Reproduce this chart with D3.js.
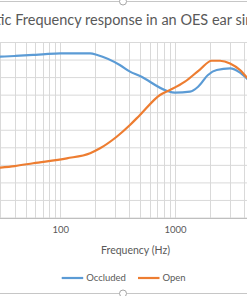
<!DOCTYPE html>
<html>
<head>
<meta charset="utf-8">
<script src="https://cdn.jsdelivr.net/npm/d3@7"></script>
<style>
  html, body { margin: 0; padding: 0; background: #fff; overflow: hidden; }
  svg { display: block; }
</style>
</head>
<body>
<svg id="chart" width="247" height="296"></svg>
<script>
// ---- data ----
const titleText = "Acoustic Frequency response in an OES ear simulator";
const xAxisTitle = "Frequency (Hz)";
const seriesNames = ["Occluded", "Open"];
const xTickLabels = [100, 1000];

const occludedFreq = [30, 40, 58, 74, 100, 182, 210, 330, 405, 495, 846, 1000, 1350, 1590, 1940, 2310, 3020, 3690, 4220, 5500];
const occludedDb   = [91.9, 92.3, 92.9, 93.4, 93.8, 93.8, 92.9, 87.2, 83.4, 80.9, 72.5, 71.4, 72.0, 74.8, 81.5, 84.3, 85.2, 82.8, 79.6, 73.0];

const openFreq = [30, 40, 58, 114, 182, 222, 310, 405, 495, 740, 905, 1220, 1650, 2085, 2470, 3020, 3690, 4220, 5500];
const openDb   = [28.7, 29.6, 31.2, 34.0, 36.9, 39.7, 46.3, 53.0, 58.7, 70.1, 72.9, 77.7, 84.6, 89.6, 89.6, 88.1, 84.3, 80.2, 74.0];

// ---- layout ----
const W = 247, H = 296;
const font = "Lato, 'Open Sans', sans-serif";
const textColor = "#595959";
const colors = ["#5B9BD5", "#ED7D31"];

const svg = d3.select("#chart");

// x: log scale, 100 Hz -> 60.3 px, 1000 Hz -> 175 px
const decade = 114.7;
const x100 = 60.3;
const xDomain = [20, 20000];
const x = d3.scaleLog()
  .domain(xDomain)
  .range([x100 - decade * Math.log10(100 / xDomain[0]), x100 + decade * Math.log10(xDomain[1] / 100)]);

const plotTop = 42.5, plotBottom = 218;
const y = d3.scaleLinear().domain([0, 100]).range([plotBottom, plotTop]);

const gGrid = svg.append("g");

// vertical gridlines (log minor ticks)
const vTicks = [];
for (let d = 10; d < xDomain[1]; d *= 10) {
  for (let m = 1; m <= 9; m++) {
    const v = d * m;
    if (v >= xDomain[0] && v <= xDomain[1]) vTicks.push(v);
  }
}
gGrid.selectAll("line.v").data(vTicks).join("line")
  .attr("class", "v")
  .attr("x1", d => Math.round(x(d)) + 0.5).attr("x2", d => Math.round(x(d)) + 0.5)
  .attr("y1", plotTop).attr("y2", plotBottom)
  .attr("stroke", "#D9D9D9").attr("stroke-width", 1);

// horizontal gridlines
gGrid.selectAll("line.h").data(y.ticks(10)).join("line")
  .attr("class", "h")
  .attr("x1", x.range()[0]).attr("x2", x.range()[1])
  .attr("y1", d => y(d)).attr("y2", d => y(d))
  .attr("stroke", "#D9D9D9").attr("stroke-width", 1);

// x axis
const xAxis = d3.axisBottom(x).tickValues(xTickLabels).tickSize(0).tickPadding(8.5).tickFormat(d3.format("d"));
const gx = svg.append("g").attr("transform", `translate(0,${plotBottom})`).call(xAxis);
gx.select(".domain").attr("stroke", "#BFBFBF");
gx.selectAll("text").attr("fill", textColor).style("font-family", font).style("font-size", "9.5px");

// lines
const line = d3.line().x(d => x(d[0])).y(d => y(d[1])).curve(d3.curveMonotoneX);
const series = [
  d3.zip(occludedFreq, occludedDb),
  d3.zip(openFreq, openDb)
];
svg.append("g").selectAll("path").data(series).join("path")
  .attr("d", line)
  .attr("fill", "none")
  .attr("stroke", (d, i) => colors[i])
  .attr("stroke-width", 2.2)
  .attr("stroke-linecap", "round")
  .attr("stroke-linejoin", "round");

// title (centred on the chart, which is wider than the window)
const title = svg.append("text")
  .attr("y", 25)
  .attr("fill", textColor)
  .style("font-family", font)
  .style("font-size", "14.5px")
  .text(titleText);
const tmp = svg.append("text").style("font-family", font).style("font-size", "14.5px").text("Acoust");
const prefixW = tmp.node().getComputedTextLength();
tmp.remove();
title.attr("x", 0.8 - prefixW);

// x axis title
svg.append("text")
  .attr("x", 135.5).attr("y", 250).attr("dy", "0.35em")
  .attr("text-anchor", "middle")
  .attr("fill", textColor)
  .style("font-family", font).style("font-size", "10.5px")
  .text(xAxisTitle);

// legend
const legend = svg.append("g");
const legendItems = [
  { name: seriesNames[0], x: 61.7, color: colors[0] },
  { name: seriesNames[1], x: 138, color: colors[1] }
];
legendItems.forEach(it => {
  legend.append("line")
    .attr("x1", it.x).attr("x2", it.x + 21.5)
    .attr("y1", 278).attr("y2", 278)
    .attr("stroke", it.color).attr("stroke-width", 2.2);
  legend.append("text")
    .attr("x", it.x + 24.5).attr("y", 278).attr("dy", "0.35em")
    .attr("fill", textColor)
    .style("font-family", font).style("font-size", "9.5px")
    .text(it.name);
});

// chart border (selection frame) with centre handles
svg.append("line").attr("x1", 0).attr("x2", W).attr("y1", 1.5).attr("y2", 1.5)
  .attr("stroke", "#C6C6C6").attr("stroke-width", 1);
svg.append("line").attr("x1", 0).attr("x2", W).attr("y1", 293.5).attr("y2", 293.5)
  .attr("stroke", "#C6C6C6").attr("stroke-width", 1);
[1.5, 293.5].forEach(cy => {
  svg.append("circle").attr("cx", 123).attr("cy", cy).attr("r", 3.5)
    .attr("fill", "#fff").attr("stroke", "#A6A6A6").attr("stroke-width", 1);
});
</script>
</body>
</html>
